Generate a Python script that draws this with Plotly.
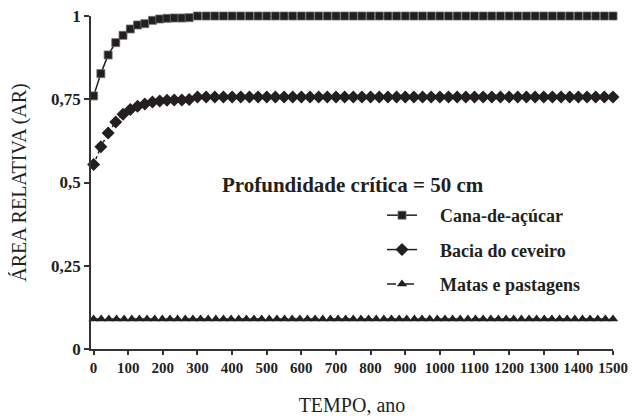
import plotly.graph_objects as go

# ---- data ----
early_x = [0, 21, 42, 64, 85, 106, 127, 148, 170, 191, 212, 233, 255, 276]
late_x = list(range(300, 1501, 25))
time_x = early_x + late_x

cana_early = [0.760, 0.827, 0.883, 0.920, 0.942, 0.961, 0.973, 0.977, 0.987, 0.991, 0.993, 0.994, 0.994, 0.995]
cana_late = [1.0] * len(late_x)
cana_y = cana_early + cana_late

bacia_early = [0.554, 0.607, 0.649, 0.682, 0.705, 0.719, 0.729, 0.736, 0.742, 0.745, 0.747, 0.748, 0.748, 0.749]
bacia_late = [0.757] * len(late_x)
bacia_y = bacia_early + bacia_late

matas_x = [round(i * 1500 / 68, 1) for i in range(69)]
matas_y = [0.09] * len(matas_x)

x_ticks = list(range(0, 1501, 100))
x_ticklabels = [str(v) for v in x_ticks]
y_ticks = [0, 0.25, 0.5, 0.75, 1]
y_ticklabels = ["0", "0,25", "0,5", "0,75", "1"]

names = ["Cana-de-açúcar", "Bacia do ceveiro", "Matas e pastagens"]
title_text = "Profundidade crítica = 50 cm"

INK = "#231f20"
FONT = "Liberation Serif"
PAD = "\u200b\u00a0\u00a0\u00a0\u00a0"

sq_marker = dict(symbol="square", size=8, color=INK, line=dict(color="#6d6d6d", width=0.8))
di_marker = dict(symbol="diamond", size=10, color=INK, line=dict(width=0))
tr_marker = dict(symbol="triangle-up", size=9, color=INK, line=dict(width=0))

fig = go.Figure()
fig.add_trace(go.Scatter(
    x=time_x, y=cana_y, name=names[0], mode="lines+markers", showlegend=False,
    line=dict(color=INK, width=1.5, dash="solid"), marker=sq_marker, cliponaxis=False,
))
fig.add_trace(go.Scatter(
    x=time_x, y=bacia_y, name=names[1], mode="lines+markers", showlegend=False,
    line=dict(color=INK, width=1.5, dash="dot"), marker=di_marker, cliponaxis=False,
))
fig.add_trace(go.Scatter(
    x=matas_x, y=matas_y, name=names[2], mode="lines+markers", showlegend=False,
    line=dict(color=INK, width=1.5, dash="dashdot"), marker=tr_marker, cliponaxis=False,
))

# legend entries (legend keys as drawn in the reference)
legend_styles = [("solid", sq_marker, "a"), ("solid", di_marker, "b"), ("dashdot", tr_marker, "c")]
for nm, (dash, mk, grp) in zip(names, legend_styles):
    fig.add_trace(go.Scatter(
        x=[None], y=[None], name=PAD + nm, mode="lines+markers", legendgroup=grp,
        line=dict(color=INK, width=1.5, dash=dash), marker=mk,
    ))

# page body has an 8px offset; plot area placed at page x 90.7..612.7, y 15.7..349.3
fig.add_annotation(
    text="<b>" + title_text + "</b>", xref="paper", yref="paper",
    x=(220 - 91) / 522, y=(349.3 - 185) / 333.6, xanchor="left", yanchor="middle",
    showarrow=False, font=dict(family=FONT, size=21, color=INK),
)

fig.update_layout(
    width=633, height=408,
    margin=dict(l=82.7, r=28.3, t=7.7, b=66.7, autoexpand=False),
    paper_bgcolor="white", plot_bgcolor="white",
    font=dict(family=FONT, color=INK),
    showlegend=True,
    legend=dict(
        x=(382 - 91) / 522, y=(349.3 - 197) / 333.6, xanchor="left", yanchor="top",
        bgcolor="rgba(0,0,0,0)", font=dict(family=FONT, size=18, color=INK, weight="bold"),
        traceorder="grouped", tracegroupgap=8,
    ),
    xaxis=dict(
        range=[-7.5, 1500], tickmode="array", tickvals=x_ticks, ticktext=x_ticklabels,
        showgrid=False, zeroline=False, showline=True, linecolor="#333", linewidth=1.5,
        ticks="outside", ticklen=4, tickcolor="#333", tickwidth=1.5, automargin=False,
        ticklabeloverflow="allow",
        tickfont=dict(family=FONT, size=15, color=INK, weight="bold"),
        title=dict(text="TEMPO, ano", font=dict(family=FONT, size=20, color=INK), standoff=24),
    ),
    yaxis=dict(
        range=[0, 1], tickmode="array", tickvals=y_ticks, ticktext=y_ticklabels,
        showgrid=False, zeroline=False, showline=True, linecolor="#333", linewidth=1.5,
        ticks="outside", ticklen=5, tickcolor="#333", tickwidth=1.5, automargin=False,
        ticklabeloverflow="allow",
        tickfont=dict(family=FONT, size=17, color=INK, weight="bold"),
        title=dict(text="ÁREA RELATIVA (AR)", font=dict(family=FONT, size=20, color=INK), standoff=19),
    ),
)

fig.write_html("out.html")
